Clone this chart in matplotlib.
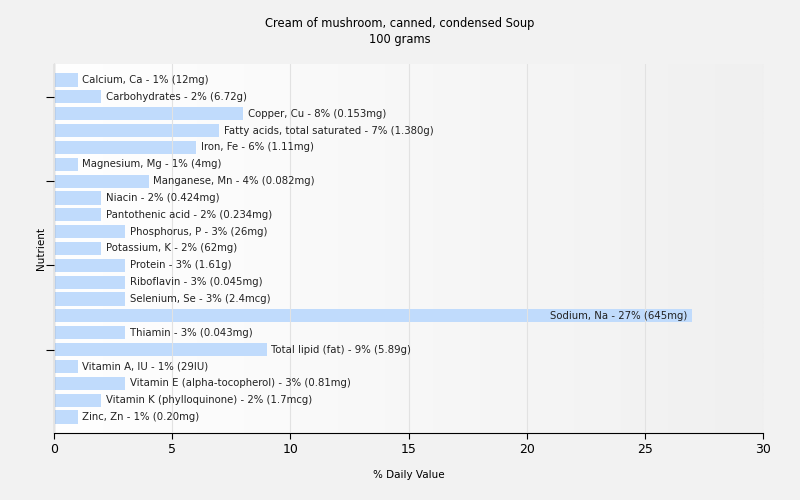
import matplotlib.pyplot as plt
import numpy as np

title = "Cream of mushroom, canned, condensed Soup\n100 grams"
nutrients = ["Calcium, Ca", "Carbohydrates", "Copper, Cu", "Fatty acids, total saturated",
             "Iron, Fe", "Magnesium, Mg", "Manganese, Mn", "Niacin", "Pantothenic acid",
             "Phosphorus, P", "Potassium, K", "Protein", "Riboflavin", "Selenium, Se",
             "Sodium, Na", "Thiamin", "Total lipid (fat)", "Vitamin A, IU",
             "Vitamin E (alpha-tocopherol)", "Vitamin K (phylloquinone)", "Zinc, Zn"]
percents = [1, 2, 8, 7, 6, 1, 4, 2, 2, 3, 2, 3, 3, 3, 27, 3, 9, 1, 3, 2, 1]
amounts = ["12mg", "6.72g", "0.153mg", "1.380g", "1.11mg", "4mg", "0.082mg", "0.424mg",
           "0.234mg", "26mg", "62mg", "1.61g", "0.045mg", "2.4mcg", "645mg", "0.043mg",
           "5.89g", "29IU", "0.81mg", "1.7mcg", "0.20mg"]

fig = plt.figure(figsize=(8, 5), dpi=100, facecolor="#f2f2f2")
ax = fig.add_axes([0.0675, 0.134, 0.8865, 0.738])

# gradient background of the plot area
grad = np.linspace(0, 1, 256).reshape(1, -1)
ax.imshow(grad, extent=[0, 30, 20.95, -0.95], aspect="auto",
          cmap=plt.matplotlib.colors.LinearSegmentedColormap.from_list("bg", ["#ffffff", "#f0f0f0"]),
          zorder=0)

y = np.arange(len(nutrients))
ax.barh(y, percents, height=0.78, color="#c0dbfc", zorder=2)

for i, (n, p, a) in enumerate(zip(nutrients, percents, amounts)):
    label = f"{n} - {p}% ({a})"
    if p > 20:
        ax.text(p - 0.2, i, label, ha="right", va="center", fontsize=7.3, color="#222222", zorder=3)
    else:
        ax.text(p + 0.2, i, label, ha="left", va="center", fontsize=7.3, color="#222222", zorder=3)

ax.set_xlim(0, 30)
ax.set_ylim(20.95, -0.95)
ax.set_xticks(range(0, 31, 5))
ax.set_yticks([1, 6, 11, 16])
ax.set_yticklabels([])
ax.grid(axis="x", color="#e2e2e2", linewidth=0.8, zorder=1)
ax.set_axisbelow(False)
for s in ["top", "right"]:
    ax.spines[s].set_visible(False)
ax.tick_params(axis="x", labelsize=9, length=4)
ax.tick_params(axis="y", length=6)

ax.set_xlabel("% Daily Value", fontsize=7.5, labelpad=10)
ax.set_ylabel("Nutrient", fontsize=7.5, labelpad=-4)
fig.suptitle(title, fontsize=8.3, y=0.965)

fig.savefig("out.png", dpi=100, facecolor=fig.get_facecolor())
